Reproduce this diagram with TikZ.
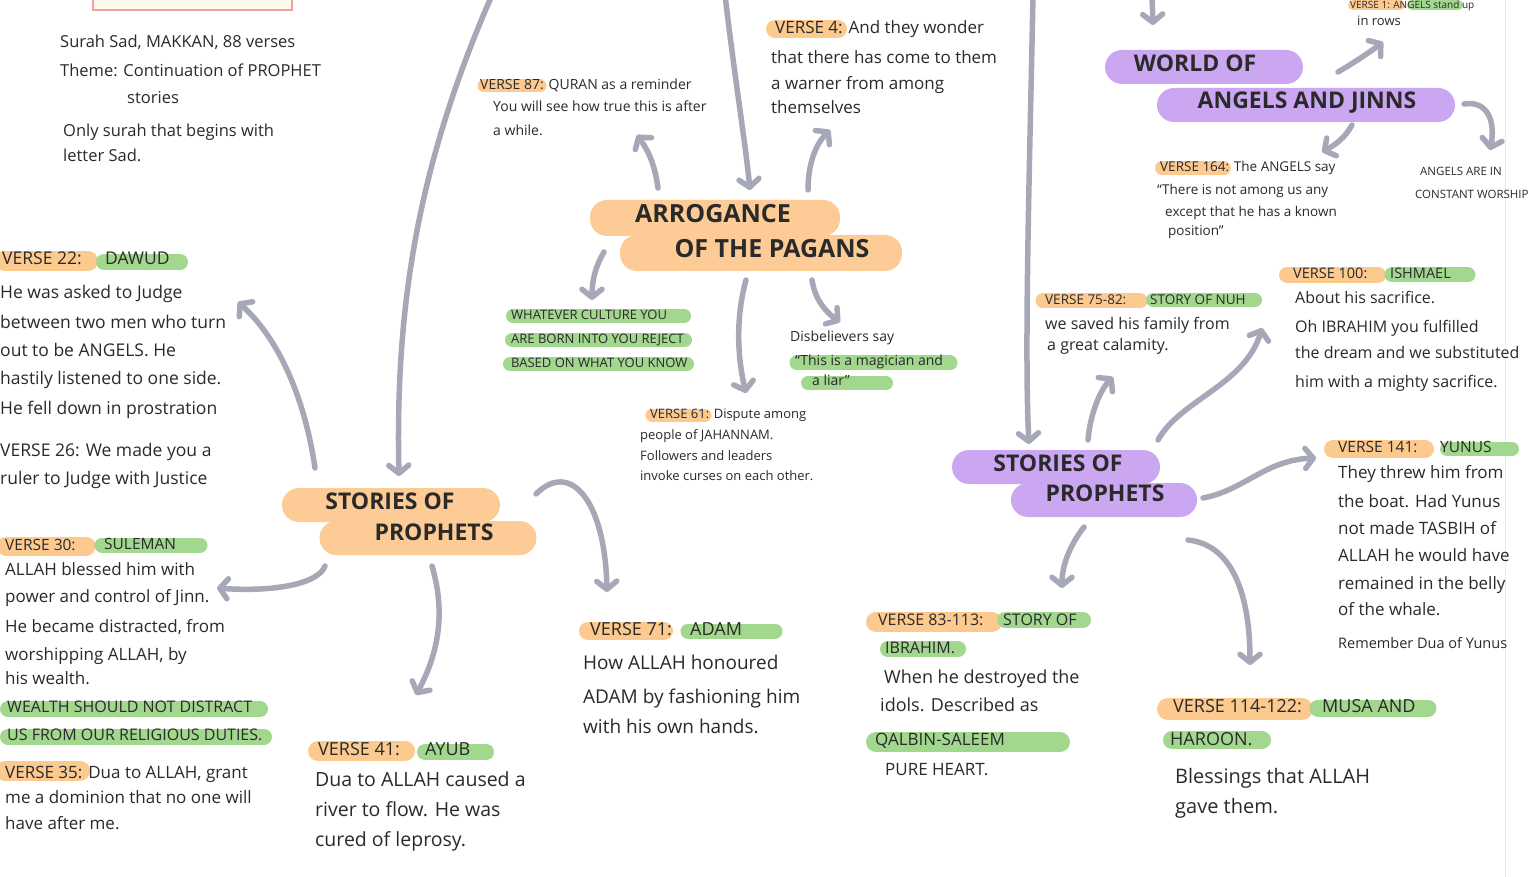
\documentclass[tikz,border=0pt]{standalone}
\usepackage{fontspec}
\setmainfont{Open Sans}
\usetikzlibrary{arrows.meta}
\definecolor{ink}{HTML}{2A2A2A}
\definecolor{pillO}{HTML}{FDCB95}
\definecolor{pillP}{HTML}{CBA7F1}
\definecolor{hlGc}{HTML}{A2D78E}
\definecolor{hlOc}{HTML}{FCC98F}
\definecolor{arrowgray}{HTML}{A6A8B7}
\definecolor{boxedge}{HTML}{F2A0A0}
\definecolor{boxfill}{HTML}{FFFBEA}
\tikzset{
  tx/.style={anchor=west, inner sep=0pt, text=ink, text height=0.7em, text depth=0pt},
  fs/.style={font=\fontsize{#1}{#1}\selectfont},
  ttl/.style={inner sep=0pt, text=ink, text height=0.7em, text depth=0pt, font=\fontsize{#1}{#1}\selectfont\bfseries},
  pillo/.style={fill=pillO, rounded corners=17pt, inner sep=0pt, draw=none},
  pillp/.style={fill=pillP, rounded corners=17pt, inner sep=0pt, draw=none},
  hlo/.style={draw=hlOc, line width=#1, line cap=round},
  hlg/.style={draw=hlGc, line width=#1, line cap=round},
  conn/.style={draw=arrowgray, line width=5.5pt, line cap=round, -{Straight Barb[length=8pt,width=20pt,round]}},
}
\newcommand\txtlines[4]{\foreach \yy/\ttx in {#4} {\node[tx,fs=#3] (#1\yy) at (#2,\yy) {\ttx};}}
\begin{document}
\begin{tikzpicture}[x=1pt,y=-1pt]
\clip (0,0) rectangle (1540,877);
\fill[white] (0,0) rectangle (1540,877);
\draw[black!8, line width=1pt] (1505,0) -- (1505,877);

% top-left title box (cut off)
\draw[boxedge, fill=boxfill, line width=1.2pt] (93,-30) rectangle (292,10);

% intro
\txtlines{intro}{60}{16.5}{44/{Surah Sad, MAKKAN, 88 verses}, 73/{Theme: Continuation of PROPHET}}
\node[tx,fs=16.5] (introst) at (127,100) {stories};
\txtlines{intro}{63}{16.5}{133/{Only surah that begins with}, 158/{letter Sad.}}

% ---------- Arrogance of the pagans ----------
\node[pillo, minimum width=250pt, minimum height=36pt] (arrP1) at (715,218) {};
\node[pillo, minimum width=282pt, minimum height=36pt] (arrP2) at (761,253) {};
\node[ttl=25] (arrT1) at (713,219) {ARROGANCE};
\node[ttl=25] (arrT2) at (772,254) {OF THE PAGANS};

% verse 87
\draw[hlo=13pt] (484,86) -- (540,86);
\txtlines{vsf}{480}{14}{86/{VERSE 87: QURAN as a reminder}}
\txtlines{vsf}{493}{14}{108/{You will see how true this is after}, 132/{a while.}}

% verse 4
\draw[hlo=18pt] (775,29) -- (838,29);
\txtlines{vfour}{775}{17}{30/{VERSE 4: And they wonder}}
\txtlines{vfour}{771}{17}{60/{that there has come to them}, 86/{a warner from among}, 110/{themselves}}

% green culture text
\draw[hlg=14pt] (513,316) -- (684,316);
\draw[hlg=14pt] (512,340) -- (685,340);
\draw[hlg=14pt] (510,364) -- (687,364);
\txtlines{cul}{511}{13}{316/{WHATEVER CULTURE YOU}, 340/{ARE BORN INTO YOU REJECT}, 364/{BASED ON WHAT YOU KNOW}}

% disbelievers
\draw[hlg=15pt] (797,363) -- (950,363);
\draw[hlg=14pt] (808,383) -- (886,383);
\node[tx,fs=14] (dis1) at (790,338) {Disbelievers say};
\node[tx,fs=14] (dis2) at (795,362) {“This is a magician and};
\node[tx,fs=14] (dis3) at (812,382) {a liar”};

% verse 61
\draw[hlo=13pt] (652,415) -- (705,415);
\node[tx,fs=13] (vsix1) at (650,415) {VERSE 61: Dispute among};
\txtlines{vsix}{640}{13}{436/{people of JAHANNAM.}, 457/{Followers and leaders}, 477/{invoke curses on each other.}}

% ---------- Left stories of prophets ----------
\node[pillo, minimum width=218pt, minimum height=34pt] (lsP1) at (391,505) {};
\node[pillo, minimum width=217pt, minimum height=34pt] (lsP2) at (428,538) {};
\node[ttl=23] (lsT1) at (390,506) {STORIES OF};
\node[ttl=23] (lsT2) at (434,537) {PROPHETS};

% Dawud
\draw[hlo=20pt] (5,261) -- (88,261);
\draw[hlg=16pt] (104,262) -- (180,262);
\node[tx,fs=17.5] (dwA) at (2,261) {VERSE 22:};
\node[tx,fs=17.5] (dwB) at (105,261) {DAWUD};
\txtlines{dw}{0}{17.5}{295/{He was asked to Judge}, 325/{between two men who turn}, 353/{out to be ANGELS. He}, 381/{hastily listened to one side.}, 411/{He fell down in prostration}, 453/{VERSE 26: We made you a}, 481/{ruler to Judge with Justice}}

% Suleman
\draw[hlo=19pt] (6,546) -- (86,546);
\draw[hlg=15pt] (102,545) -- (200,545);
\node[tx,fs=15.5] (slA) at (5,547) {VERSE 30:};
\node[tx,fs=15.5] (slB) at (104,546) {SULEMAN};
\txtlines{sl}{5}{17}{572/{ALLAH blessed him with}, 599/{power and control of Jinn.}, 629/{He became distracted, from}, 657/{worshipping ALLAH, by}, 681/{his wealth.}}
\draw[hlg=16pt] (8,709) -- (260,709);
\draw[hlg=16pt] (8,737) -- (264,737);
\txtlines{slw}{7}{16}{709/{WEALTH SHOULD NOT DISTRACT}, 737/{US FROM OUR RELIGIOUS DUTIES.}}
\draw[hlo=20pt] (5,771) -- (80,771);
\txtlines{slv}{5}{17}{775/{VERSE 35: Dua to ALLAH, grant}, 800/{me a dominion that no one will}, 826/{have after me.}}

% Ayub
\draw[hlo=20pt] (318,751) -- (405,751);
\draw[hlg=16pt] (425,752) -- (486,752);
\node[tx,fs=18] (ayA) at (318,752) {VERSE 41:};
\node[tx,fs=18] (ayB) at (425,752) {AYUB};
\txtlines{ay}{315}{19.5}{783/{Dua to ALLAH caused a}, 813/{river to flow. He was}, 843/{cured of leprosy.}}

% Adam
\draw[hlo=18pt] (588,631) -- (664,631);
\draw[hlg=15pt] (688,631) -- (775,631);
\node[tx,fs=18] (adA) at (590,632) {VERSE 71:};
\node[tx,fs=18] (adB) at (690,632) {ADAM};
\txtlines{ad}{583}{19}{666/{How ALLAH honoured}, 700/{ADAM by fashioning him}, 730/{with his own hands.}}

% ---------- World of angels and jinns ----------
\node[pillp, minimum width=198pt, minimum height=34pt] (wdP1) at (1204,67) {};
\node[pillp, minimum width=298pt, minimum height=34pt] (wdP2) at (1306,105) {};
\node[ttl=23] (wdT1) at (1195,68) {WORLD OF};
\node[ttl=23] (wdT2) at (1307,105) {ANGELS AND JINNS};

% verse 1 (at top edge)
\draw[hlo=10pt] (1353,5) -- (1400,5);
\draw[hlg=10pt] (1412,5) -- (1458,5);
\node[tx,fs=10] (vone1) at (1350,5) {VERSE 1: ANGELS stand up};
\node[tx,fs=13] (vone2) at (1357,22) {in rows};

% verse 164
\draw[hlo=14pt] (1162,168) -- (1224,168);
\node[tx,fs=13.5] (vos1) at (1160,168) {VERSE 164: The ANGELS say};
\node[tx,fs=13.5] (vos2) at (1157,191) {“There is not among us any};
\node[tx,fs=13.5] (vos3) at (1165,213) {except that he has a known};
\node[tx,fs=13.5] (vos4) at (1168,232) {position”};

% worship
\node[tx,fs=11.5] (wor1) at (1420,172) {ANGELS ARE IN};
\node[tx,fs=11.5] (wor2) at (1415,195) {CONSTANT WORSHIP};

% ---------- Right stories of prophets ----------
\node[pillp, minimum width=208pt, minimum height=34pt] (rsP1) at (1056,467) {};
\node[pillp, minimum width=186pt, minimum height=34pt] (rsP2) at (1104,500) {};
\node[ttl=23] (rsT1) at (1058,468) {STORIES OF};
\node[ttl=23] (rsT2) at (1105,498) {PROPHETS};

% Nuh
\draw[hlo=15pt] (1043,301) -- (1140,301);
\draw[hlg=14pt] (1153,300) -- (1255,300);
\node[tx,fs=13.5] (nuA) at (1045,301) {VERSE 75-82:};
\node[tx,fs=13.5] (nuB) at (1150,301) {STORY OF NUH};
\node[tx,fs=16] (nu1) at (1045,326) {we saved his family from};
\node[tx,fs=16] (nu2) at (1047,347) {a great calamity.};

% Ishmael
\draw[hlo=16pt] (1287,275) -- (1378,275);
\draw[hlg=15pt] (1392,275) -- (1468,275);
\node[tx,fs=14.5] (isA) at (1293,275) {VERSE 100:};
\node[tx,fs=14.5] (isB) at (1390,275) {ISHMAEL};
\txtlines{is}{1295}{16}{300/{About his sacrifice.}, 329/{Oh IBRAHIM you fulfilled}, 355/{the dream and we substituted}, 384/{him with a mighty sacrifice.}}

% Yunus
\draw[hlo=18pt] (1333,449) -- (1425,449);
\draw[hlg=14pt] (1447,449) -- (1512,449);
\node[tx,fs=15.5] (yuA) at (1338,449) {VERSE 141:};
\node[tx,fs=15.5] (yuB) at (1440,449) {YUNUS};
\txtlines{yu}{1338}{17}{475/{They threw him from}, 504/{the boat. Had Yunus}, 531/{not made TASBIH of}, 558/{ALLAH he would have}, 586/{remained in the belly}, 612/{of the whale.}}
\node[tx,fs=14.5] (yurem) at (1338,645) {Remember Dua of Yunus};

% Ibrahim
\draw[hlo=20pt] (876,622) -- (992,622);
\draw[hlg=16pt] (1005,620) -- (1083,620);
\draw[hlg=16pt] (888,649) -- (958,649);
\node[tx,fs=16] (ibA) at (878,622) {VERSE 83-113:};
\node[tx,fs=16] (ibB) at (1003,622) {STORY OF};
\node[tx,fs=16] (ibC) at (885,650) {IBRAHIM.};
\node[tx,fs=18] (ib1) at (884,680) {When he destroyed the};
\node[tx,fs=18] (ib2) at (880,708) {idols. Described as};
\draw[hlg=20pt] (876,742) -- (1060,742);
\node[tx,fs=17] (ib3) at (875,742) {QALBIN-SALEEM};
\node[tx,fs=17] (ib4) at (885,772) {PURE HEART.};

% Musa
\draw[hlo=22pt] (1168,709) -- (1302,709);
\draw[hlg=17pt] (1318,708) -- (1428,708);
\draw[hlg=18pt] (1172,740) -- (1262,740);
\node[tx,fs=18] (muA) at (1173,709) {VERSE 114-122:};
\node[tx,fs=18] (muB) at (1322,709) {MUSA AND};
\node[tx,fs=18] (muC) at (1170,742) {HAROON.};
\node[tx,fs=20] (mu1) at (1175,780) {Blessings that ALLAH};
\node[tx,fs=20] (mu2) at (1175,810) {gave them.};

% ---------- connectors ----------
\coordinate (c1s) at (492,-5);   \coordinate (c1e) at (399,476);
\coordinate (c2s) at (725,-5);   \coordinate (c2e) at (750,190);
\coordinate (c3s) at (1033,-5);  \coordinate (c3e) at (1029,444);
\coordinate (c4s) at (1152,-5);  \coordinate (c4e) at (1153,25);
\coordinate (c5s) at (658,188);  \coordinate (c5e) at (637,135);
\coordinate (c6s) at (808,190);  \coordinate (c6e) at (830,130);
\coordinate (c7s) at (604,252);  \coordinate (c7e) at (592,300);
\coordinate (c8s) at (746,280);  \coordinate (c8e) at (746,393);
\coordinate (c9s) at (812,280);  \coordinate (c9e) at (840,322);
\coordinate (c10s) at (315,468); \coordinate (c10e) at (238,302);
\coordinate (c11s) at (325,566); \coordinate (c11e) at (217,588);
\coordinate (c12s) at (432,566); \coordinate (c12e) at (416,695);
\coordinate (c13s) at (536,494); \coordinate (c13e) at (607,592);
\coordinate (c14s) at (1338,72); \coordinate (c14e) at (1383,42);
\coordinate (c15s) at (1352,125);\coordinate (c15e) at (1322,152);
\coordinate (c16s) at (1464,104);\coordinate (c16e) at (1490,150);
\coordinate (c17s) at (1088,440);\coordinate (c17e) at (1113,377);
\coordinate (c18s) at (1158,440);\coordinate (c18e) at (1262,328);
\coordinate (c19s) at (1203,498);\coordinate (c19e) at (1316,458);
\coordinate (c20s) at (1084,527);\coordinate (c20e) at (1062,588);
\coordinate (c21s) at (1188,540);\coordinate (c21e) at (1250,665);

\draw[conn] (c1s) .. controls (420,160) and (395,300) .. (c1e);
\draw[conn] (c2s) .. controls (735,80) and (745,140) .. (c2e);
\draw[conn] (c3s) .. controls (1030,150) and (1024,350) .. (c3e);
\draw[conn] (c4s) -- (c4e);
\draw[conn] (c5s) .. controls (655,165) and (648,150) .. (c5e);
\draw[conn] (c6s) .. controls (808,165) and (815,145) .. (c6e);
\draw[conn] (c7s) .. controls (596,265) and (592,280) .. (c7e);
\draw[conn] (c8s) .. controls (735,320) and (738,360) .. (c8e);
\draw[conn] (c9s) .. controls (815,300) and (826,312) .. (c9e);
\draw[conn] (c10s) .. controls (305,400) and (280,340) .. (c10e);
\draw[conn] (c11s) .. controls (318,585) and (270,592) .. (c11e);
\draw[conn] (c12s) .. controls (445,610) and (440,650) .. (c12e);
\draw[conn] (c13s) .. controls (570,460) and (605,500) .. (c13e);
\draw[conn] (c14s) .. controls (1355,62) and (1370,52) .. (c14e);
\draw[conn] (c15s) .. controls (1345,138) and (1335,145) .. (c15e);
\draw[conn] (c16s) .. controls (1490,100) and (1495,125) .. (c16e);
\draw[conn] (c17s) .. controls (1090,415) and (1100,390) .. (c17e);
\draw[conn] (c18s) .. controls (1180,400) and (1245,385) .. (c18e);
\draw[conn] (c19s) .. controls (1245,490) and (1265,460) .. (c19e);
\draw[conn] (c20s) .. controls (1070,545) and (1062,565) .. (c20e);
\draw[conn] (c21s) .. controls (1235,545) and (1250,600) .. (c21e);
\end{tikzpicture}
\end{document}
